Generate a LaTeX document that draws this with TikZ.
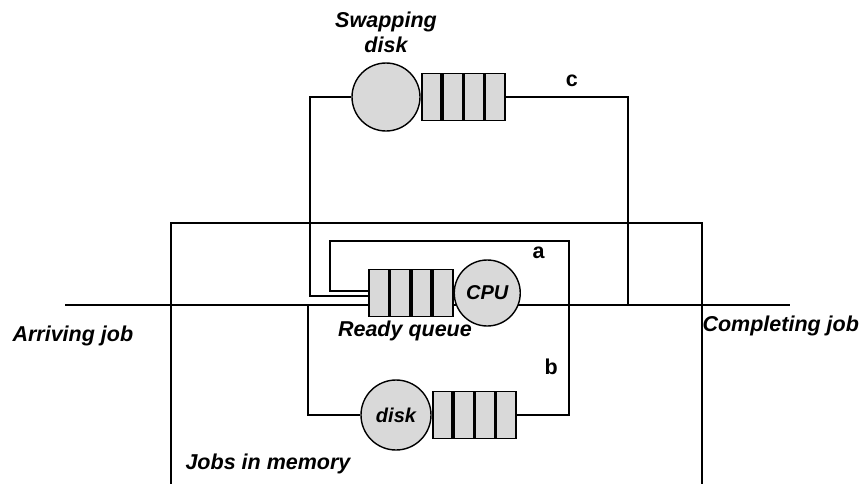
\documentclass[tikz,border=0pt]{standalone}
\usepackage{fontspec}
\setmainfont{Liberation Sans}
\usepackage{tikz}
\usetikzlibrary{positioning}
\definecolor{qgray}{RGB}{217,217,217}
\tikzstyle{line} = [line width=2pt]
\tikzstyle{server} = [circle, draw=black, line width=1.4pt, fill=qgray, minimum size=68pt, inner sep=0pt, font=\bfseries\itshape\fontsize{20}{24}\selectfont]
\tikzstyle{slot} = [rectangle, draw=black, line width=1.8pt, fill=qgray, minimum width=19.5pt, minimum height=47pt, inner sep=0pt]
\pgfdeclarelayer{background}
\pgfsetlayers{background,main}

\begin{document}
\begin{tikzpicture}[x=1pt, y=-1pt]
\tikzset{%
	lbl/.style = {font=\bfseries\itshape\fontsize{21.5}{25}\selectfont, align=center},
	tag/.style = {font=\bfseries\fontsize{21.5}{25}\selectfont},
	wrap/.style = {rectangle, draw=black, line width=2pt}
}
\useasboundingbox (0,0) rectangle (868,483);

\node(mem) [wrap, minimum width=531pt, minimum height=300pt, anchor=north west, outer sep=0pt, inner sep=0pt] at (171,223) {};
\node(memt) [lbl, anchor=base west] at (182,469) {Jobs in memory};

\node(swd) [server] at (386,97) {};
\node(swdt) [lbl, above=6pt of swd] {Swapping\\disk};
\node(sw1) [slot, right=0pt of swd] {};
\node(sw2) [slot, right=0pt of sw1] {};
\node(sw3) [slot, right=0pt of sw2] {};
\node(sw4) [slot, right=0pt of sw3] {};

\node(rq1) [slot] at (379,293) {};
\node(rq2) [slot, right=0pt of rq1] {};
\node(rq3) [slot, right=0pt of rq2] {};
\node(rq4) [slot, right=0pt of rq3] {};
\node(cpu) [server, minimum size=66pt, right=0pt of rq4] {CPU};
\node(rqt) [lbl, below=0pt of rq2.south east, xshift=-6pt] {Ready queue};

\node(dsk) [server, minimum size=70pt] at (396,415) {disk};
\node(dq1) [slot, right=0pt of dsk] {};
\node(dq2) [slot, right=0pt of dq1] {};
\node(dq3) [slot, right=0pt of dq2] {};
\node(dq4) [slot, right=0pt of dq3] {};

\node(arrt) [lbl, anchor=base west] at (9,341) {Arriving job};
\node(cmpt) [lbl, anchor=base west] at (699,331) {Completing job};

\coordinate (arr) at (65,305);
\coordinate (cmp) at (790,305);
\coordinate (jc) at (628,305);
\coordinate (ja) at (569,305);
\coordinate (jb) at (308,305);
\coordinate (swl) at (310,296);
\coordinate (al) at (330,241);

\begin{pgfonlayer}{background}
\draw [line] (arr) -- (cmp);
\draw [line] (sw4.east) -| node[tag, pos=0.27, above=6pt] {c} (jc);
\draw [line] (swd.west) -| (swl) -- ([yshift=-3pt]rq1.west);
\draw [line] (ja) |- node[tag, pos=0.41, left=20pt] {a} (al) |- ([yshift=2pt]rq1.west);
\draw [line] (ja) |- node[tag, pos=0.28, left=7pt] {b} (dq4.east);
\draw [line] (dsk.west) -| (jb);
\end{pgfonlayer}
\end{tikzpicture}
\end{document}
